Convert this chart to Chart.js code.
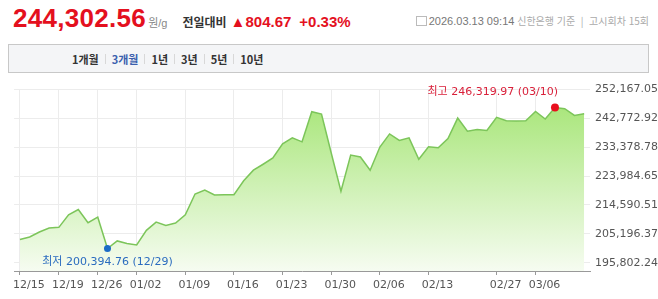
<!DOCTYPE html>
<html lang="ko">
<head>
<meta charset="utf-8">
<script src="https://cdn.jsdelivr.net/npm/chart.js@4.4.1/dist/chart.umd.min.js"></script>
<style>
    body { margin: 0; width: 658px; height: 299px; overflow: hidden; background: #fff; position: relative; font-family: "Liberation Sans", Arial, "Noto Sans CJK KR", sans-serif; }
    .head { position: absolute; left: 13px; top: 5px; display: flex; align-items: baseline; white-space: nowrap; }
    .price { font-size: 26px; font-weight: bold; color: #e4101e; line-height: 26px; letter-spacing: 0.3px; }
    .unit { font-size: 11px; color: #888; margin-left: 2px; }
    .cmp { font-size: 12px; font-weight: bold; color: #333; margin-left: 15px; font-family: "Noto Sans CJK KR", sans-serif; }
    .chg { font-size: 15px; font-weight: bold; color: #e4101e; margin-left: 4px; }
    .pct { font-size: 15px; font-weight: bold; color: #e4101e; margin-left: 8px; }
    .info { position: absolute; right: 9px; top: 13px; font-size: 11px; color: #777; white-space: nowrap; display: flex; align-items: center; }
    .info .ko { font-family: "Noto Sans CJK KR", sans-serif; font-size: 10px; color: #aaa; }
    .icon { display: inline-block; width: 9px; height: 8px; border: 1px solid #bbb; margin-right: 2px; }
    .tabs { position: absolute; left: 8px; top: 44px; width: 639px; height: 27px; border: 1px solid #c8c8c8; background: #f4f5f7; }
    .tabs .row { position: absolute; left: 63px; top: 0; height: 27px; display: flex; align-items: center; font-family: "Noto Sans CJK KR", sans-serif; font-size: 11px; font-weight: bold; color: #333; }
    .tabs .sep { width: 1px; height: 10px; background: #d8d8d8; margin: 0 6px; }
    .tabs .on { color: #3b5fae; }
    #wrap { position: absolute; left: 0; top: 78px; width: 658px; height: 221px; }
</style>
</head>
<body>
<div class="head">
    <span class="price">244,302.56</span><span class="unit">원/g</span>
    <span class="cmp">전일대비</span>
    <span class="chg">▲804.67</span><span class="pct">+0.33%</span>
</div>
<div class="info">
    <span class="icon"></span><span>2026.03.13 09:14</span>
    <span class="ko">&nbsp;신한은행 기준&nbsp;&nbsp;|&nbsp;&nbsp;고시회차 15회</span>
</div>
<div class="tabs">
    <div class="row">
        <span>1개월</span><span class="sep"></span>
        <span class="on">3개월</span><span class="sep"></span>
        <span>1년</span><span class="sep"></span>
        <span>3년</span><span class="sep"></span>
        <span>5년</span><span class="sep"></span>
        <span>10년</span>
    </div>
</div>
<div id="wrap"><canvas id="chart"></canvas></div>

<script>
// 거래일 (12/15 ~ 03/13)
let dates = [
    '12/15','12/16','12/17','12/18','12/19','12/22','12/23','12/24','12/26','12/29','12/30','12/31',
    '01/02','01/05','01/06','01/07','01/08','01/09','01/12','01/13','01/14','01/15','01/16',
    '01/19','01/20','01/21','01/22','01/23','01/26','01/27','01/28','01/29','01/30',
    '02/02','02/03','02/04','02/05','02/06','02/09','02/10','02/11','02/12','02/13',
    '02/19','02/20','02/23','02/24','02/25','02/26','02/27',
    '03/03','03/04','03/05','03/06','03/09','03/10','03/11','03/12','03/13'
];

// 원/g
let prices = [
    203330, 204170, 205780, 207070, 207300, 211400, 213110, 208820, 210620, 200394.76, 202880, 202040,
    201580, 206330, 209010, 207940, 208690, 211400, 218180, 219470, 217850, 217900, 217950,
    222470, 225920, 227860, 229890, 234510, 236450, 235160, 244970, 244190, 231510,
    219080, 230860, 230220, 225920, 233450, 237740, 235610, 236450, 229470, 233540,
    233220, 236250, 242900, 238610, 239160, 238840, 243130,
    242060, 241980, 242000, 245070, 242580, 246319.97, 245940, 243770, 244302.56
];

let xTickLabels = ['12/15','12/19','12/26','01/02','01/09','01/16','01/23','01/30','02/06','02/13','02/27','03/06'];
let yTicks = [195802.24, 205196.37, 214590.51, 223984.65, 233378.78, 242772.92, 252167.05];

let hiIdx = prices.indexOf(Math.max(...prices));
let loIdx = prices.indexOf(Math.min(...prices));

let fmt = function (v) {
    return v.toLocaleString('en-US', { minimumFractionDigits: 2, maximumFractionDigits: 2 });
}

let markLabels = {
    id: 'markLabels',
    afterDatasetsDraw(chart) {
        let ctx = chart.ctx;
        let pts = chart.getDatasetMeta(0).data;
        let hi = pts[hiIdx];
        let lo = pts[loIdx];
        ctx.save();
        ctx.font = "11px 'DejaVu Sans', 'Noto Sans CJK KR', sans-serif";
        ctx.textBaseline = 'middle';

        ctx.fillStyle = '#d9203a';
        ctx.textAlign = 'right';
        ctx.fillText('최고 ' + fmt(prices[hiIdx]) + ' (' + dates[hiIdx] + ')', hi.x + 3, hi.y - 15);

        ctx.fillStyle = '#2b6cbf';
        ctx.textAlign = 'center';
        ctx.fillText('최저 ' + fmt(prices[loIdx]) + ' (' + dates[loIdx] + ')', lo.x, lo.y + 14);
        ctx.restore();
    }
};

let createChart = function () {
    const ctx = document.getElementById('chart');

    new Chart(ctx, {
        type: 'line',
        data: {
            datasets: [{
                data: prices.map((p, i) => ({ x: i, y: p })),
                borderColor: '#7cc55a',
                borderWidth: 1.5,
                tension: 0,
                fill: 'start',
                backgroundColor: function (c) {
                    let area = c.chart.chartArea;
                    if (!area) return 'rgba(166,228,119,0.5)';
                    let g = c.chart.ctx.createLinearGradient(0, area.top, 0, area.bottom);
                    g.addColorStop(0, '#a2e470');
                    g.addColorStop(1, '#f6fcf1');
                    return g;
                },
                pointRadius: c => c.dataIndex === hiIdx ? 4 : (c.dataIndex === loIdx ? 3.5 : 0),
                pointBackgroundColor: c => c.dataIndex === hiIdx ? '#e8101e' : '#1c6cc6',
                pointBorderWidth: 0,
                clip: false
            }]
        },
        options: {
            responsive: true,
            maintainAspectRatio: false,
            animation: false,
            layout: { padding: { top: 10, left: 8, right: 0, bottom: 0 } },
            plugins: { legend: { display: false }, tooltip: { enabled: false } },
            scales: {
                x: {
                    type: 'linear',
                    min: -0.6,
                    max: dates.length - 0.4,
                    afterBuildTicks: s => { s.ticks = xTickLabels.map(d => ({ value: dates.indexOf(d) })); },
                    afterFit: s => { s.height = 28; },
                    ticks: {
                        autoSkip: false,
                        maxRotation: 0,
                        labelOffset: 9,
                        padding: 4,
                        color: '#555',
                        font: { family: "'DejaVu Sans', sans-serif", size: 11 },
                        callback: v => dates[v]
                    },
                    grid: { color: '#ececec', tickLength: 4, tickColor: '#999' },
                    border: { color: '#999' }
                },
                y: {
                    position: 'right',
                    min: 193090,
                    max: 252167.05,
                    afterBuildTicks: s => { s.ticks = yTicks.map(v => ({ value: v })); },
                    afterFit: s => { s.width = 68; },
                    ticks: {
                        padding: 5,
                        color: '#555',
                        font: { family: "'DejaVu Sans', sans-serif", size: 11 },
                        callback: v => fmt(v)
                    },
                    grid: { color: '#ececec', drawTicks: false },
                    border: { display: false }
                }
            }
        },
        plugins: [markLabels]
    });
}

createChart();
</script>
</body>
</html>
